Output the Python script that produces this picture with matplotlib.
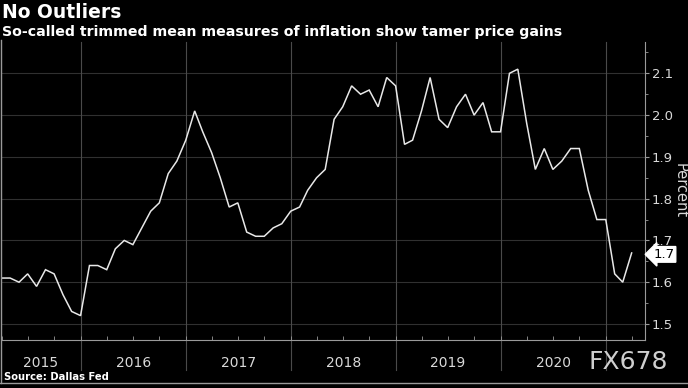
import numpy as np
import pandas as pd
import matplotlib
matplotlib.use("Agg")
import matplotlib.pyplot as plt
import matplotlib.dates as mdates

# Dallas Fed trimmed mean, monthly from April 2015
months = pd.date_range("2015-04-01", periods=73, freq="MS")
values = [1.61, 1.61, 1.60, 1.62, 1.59, 1.63, 1.62, 1.57, 1.53,
          1.52, 1.64, 1.64, 1.63, 1.68, 1.70, 1.69, 1.73, 1.77, 1.79, 1.86, 1.89,
          1.94, 2.01, 1.96, 1.91, 1.85, 1.78, 1.79, 1.72, 1.71, 1.71, 1.73, 1.74,
          1.77, 1.78, 1.82, 1.85, 1.87, 1.99, 2.02, 2.07, 2.05, 2.06, 2.02, 2.09,
          2.07, 1.93, 1.94, 2.01, 2.09, 1.99, 1.97, 2.02, 2.05, 2.00, 2.03, 1.96,
          1.96, 2.10, 2.11, 1.98, 1.87, 1.92, 1.87, 1.89, 1.92, 1.92, 1.82, 1.75,
          1.75, 1.62, 1.60, 1.67]
years = [2015, 2016, 2017, 2018, 2019, 2020]
yticks = [1.5, 1.6, 1.7, 1.8, 1.9, 2.0, 2.1]

bg = "black"
fg = "#d9d9d9"

fig = plt.figure(figsize=(6.88, 3.88), dpi=100, facecolor=bg)
W, H = 688, 388
x0, x1, ytop, ybot = 1.5, 645, 42, 340
ax = fig.add_axes([x0 / W, 1 - ybot / H, (x1 - x0) / W, (ybot - ytop) / H], facecolor=bg)

ax.plot(months, values, color="#e8e8e8", lw=1.1, solid_joinstyle="miter", zorder=3)

ax.set_ylim(1.4617, 2.175)
xmin = mdates.date2num(pd.Timestamp("2015-04-01"))
span = (x1 - x0) / 105.0 * 365.25
ax.set_xlim(xmin, xmin + span)

for y in yticks:
    ax.axhline(y, color="#303030", lw=0.8, zorder=1)
ext = 30 / (ybot - ytop)
for yr in years[1:] + [2021]:
    ax.axvline(pd.Timestamp(f"{yr}-01-01"), ymin=-ext, ymax=1, color="#4a4a4a",
               lw=0.8, clip_on=False, zorder=1)

for s in ["top", "left"]:
    ax.spines[s].set_visible(False)
ax.spines["right"].set_color("#9a9a9a")
ax.spines["bottom"].set_color("#9a9a9a")

ax.yaxis.tick_right()
ax.set_yticks(yticks)
ax.set_yticklabels([f"{v:.1f}" for v in yticks])
ax.set_yticks(np.arange(1.55, 2.16, 0.1), minor=True)
ax.tick_params(axis="y", which="major", colors="#9a9a9a", labelcolor=fg,
               labelsize=9.5, length=3, width=0.8, pad=2)
ax.tick_params(axis="y", which="minor", colors="#9a9a9a", length=2, width=0.6)

ax.xaxis.set_major_locator(mdates.MonthLocator(bymonth=[1, 4, 7, 10]))
ax.xaxis.set_major_formatter(plt.NullFormatter())
ax.tick_params(axis="x", direction="in", colors="#9a9a9a", length=3, width=0.6)

# year labels centred in each visible year
lo, hi = ax.get_xlim()
for yr in years:
    a = max(mdates.date2num(pd.Timestamp(f"{yr}-01-01")), lo)
    b = min(mdates.date2num(pd.Timestamp(f"{yr + 1}-01-01")), hi)
    ax.text((a + b) / 2, -23 / (ybot - ytop), str(yr), transform=ax.get_xaxis_transform(),
            color=fg, fontsize=10, ha="center", va="center")

ax.text((680 - x0) / (x1 - x0), 0.5, "Percent", transform=ax.transAxes, rotation=270,
        color=fg, fontsize=10.5, ha="center", va="center")

# last value tag
ax.annotate(f"{values[-1]:.1f}", xy=(1, values[-1]), xycoords=ax.get_yaxis_transform(),
            xytext=(6, -1), textcoords="offset points", color="black", fontsize=9.5,
            ha="left", va="center",
            bbox=dict(boxstyle="larrow,pad=0.1", fc="white", ec="white"))

fig.text(2 / W, 1 - 12 / H, "No Outliers", color="white", fontsize=13.5,
         fontweight="bold", ha="left", va="center")
fig.text(2 / W, 1 - 32 / H, "So-called trimmed mean measures of inflation show tamer price gains",
         color="white", fontsize=10.2, fontweight="bold", ha="left", va="center")
fig.text(4 / W, 1 - 377 / H, "Source: Dallas Fed", color="white", fontsize=7.2,
         fontweight="bold", ha="left", va="center")
fig.text(628 / W, 1 - 362 / H, "FX678", color="#cfcfcf", fontsize=18,
         ha="center", va="center")

fig.add_artist(plt.Line2D([0, 1], [1 - 383 / H] * 2, color="#9a9a9a", lw=1.0))
fig.add_artist(plt.Line2D([1 / W] * 2, [1 - 383 / H, 1 - 40 / H], color="#9a9a9a", lw=1.0))

fig.savefig("out.png", dpi=100, facecolor=bg)
